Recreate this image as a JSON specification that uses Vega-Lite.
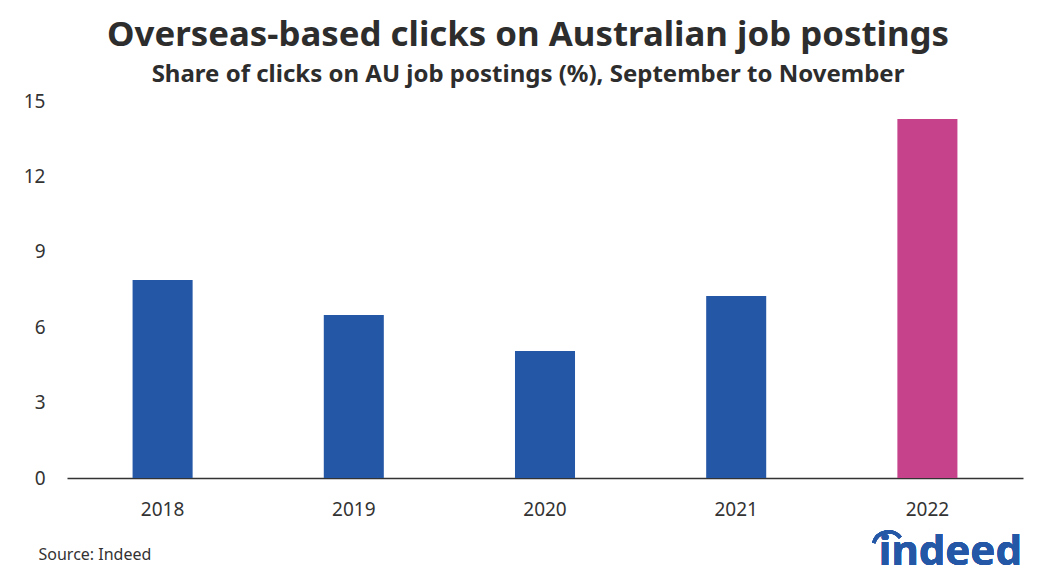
{
  "$schema": "https://vega.github.io/schema/vega-lite/v6.json",
  "autosize": "none",
  "width": 956,
  "height": 377,
  "padding": {"left": 67, "top": 101, "right": 33, "bottom": 98},
  "background": "white",
  "config": {
    "view": {"stroke": null},
    "font": "Noto Sans"
  },
  "title": {
    "text": "Overseas-based clicks on Australian job postings",
    "subtitle": "Share of clicks on AU job postings (%), September to November",
    "anchor": "middle",
    "dx": -17,
    "offset": 4,
    "font": "Noto Sans",
    "fontSize": 34.8,
    "fontWeight": "bold",
    "color": "#2d2d2d",
    "subtitleFont": "Noto Sans",
    "subtitleFontSize": 24,
    "subtitleFontWeight": "bold",
    "subtitleColor": "#2d2d2d",
    "subtitlePadding": 9
  },
  "data": {
    "values": [
      {"year": "2018", "share": 7.88},
      {"year": "2019", "share": 6.49},
      {"year": "2020", "share": 5.05},
      {"year": "2021", "share": 7.24},
      {"year": "2022", "share": 14.28}
    ]
  },
  "layer": [
    {
      "mark": {"type": "bar"},
      "encoding": {
        "x": {
          "field": "year",
          "type": "nominal",
          "scale": {"paddingInner": 0.686, "paddingOuter": 0.343},
          "axis": {
            "title": "Source: Indeed",
            "titleAnchor": "start",
            "titleAlign": "left",
            "titleBaseline": "alphabetic",
            "titleX": -29,
            "titleY": 81,
            "titleFontSize": 16,
            "titleFontWeight": "normal",
            "titleColor": "#333333",
            "labelAngle": 0,
            "labelFontSize": 19,
            "labelColor": "#333333",
            "labelPadding": 22,
            "ticks": false,
            "domainColor": "#333333",
            "domainWidth": 1.5,
            "grid": false
          }
        },
        "y": {
          "field": "share",
          "type": "quantitative",
          "scale": {"domain": [0, 15], "nice": false},
          "axis": {
            "title": null,
            "values": [0, 3, 6, 9, 12, 15],
            "grid": false,
            "domain": false,
            "ticks": false,
            "labelPadding": 22,
            "labelFontSize": 19,
            "labelColor": "#333333"
          }
        },
        "color": {
          "condition": {"test": "datum.year === '2022'", "value": "#c6428a"},
          "value": "#2557a7"
        }
      }
    },
    {
      "mark": {
        "type": "text",
        "text": "indeed",
        "font": "Noto Sans",
        "fontSize": 42,
        "fontWeight": "bold",
        "color": "#2557a7",
        "align": "center",
        "baseline": "alphabetic",
        "dx": 23
      },
      "encoding": {
        "x": {"datum": "2022", "type": "nominal"},
        "y": {"datum": -3.46, "type": "quantitative"}
      }
    },
    {
      "mark": {
        "type": "arc",
        "theta": -1.3,
        "theta2": 0.9,
        "radius": 17,
        "radius2": 13.5,
        "color": "#2557a7"
      },
      "encoding": {
        "x": {"datum": "2022", "type": "nominal", "bandPosition": -0.15},
        "y": {"datum": -2.75, "type": "quantitative"}
      }
    }
  ]
}
